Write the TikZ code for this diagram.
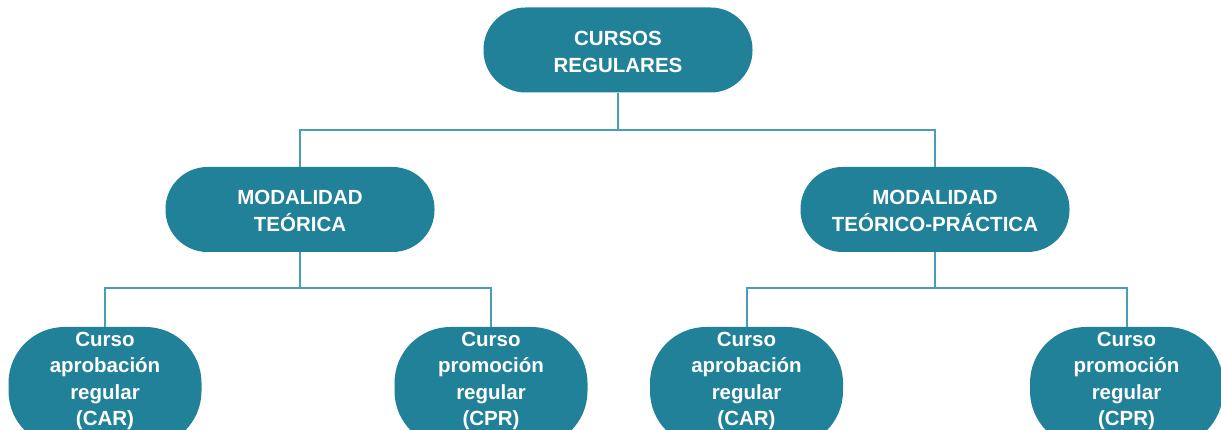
\documentclass[tikz,border=0pt]{standalone}
\usepackage{fontspec}
\setmainfont{Liberation Sans}
\definecolor{teal1}{RGB}{32,129,152}
\definecolor{line1}{RGB}{72,158,178}
\tikzset{
  box/.style={rectangle, fill=teal1, draw=none, rounded corners=42pt,
    minimum width=269pt, minimum height=85pt, inner sep=0pt},
  leaf/.style={rectangle, fill=teal1, draw=none, rounded corners=56pt,
    minimum width=193pt, minimum height=120pt, inner sep=0pt},
  txt/.style={text=white, align=center, inner sep=0pt,
    font=\fontsize{20.5pt}{26.5pt}\selectfont\bfseries},
  conn/.style={draw=line1, line width=2pt}
}
\begin{document}
\begin{tikzpicture}[x=1pt,y=-1pt]
\useasboundingbox (0,0) rectangle (1221,430);
% top
\node[box] (top) at (618,50) {};
\node[txt] (topt) at (618,52) {CURSOS\\REGULARES};
% middle
\node[box] (ml) at (300,209.5) {};
\node[txt] (mlt) at (300,211) {MODALIDAD\\TEÓRICA};
\node[box] (mr) at (935,209.5) {};
\node[txt] (mrt) at (935,211) {MODALIDAD\\TEÓRICO-PRÁCTICA};
% leaves
\node[leaf] (b1) at (105,387) {};
\node[leaf] (b2) at (491,387) {};
\node[leaf] (b3) at (746.5,387) {};
\node[leaf] (b4) at (1126.5,387) {};
\node[txt] (b1t) at (105,381) {Curso\\aprobación\\regular\\(CAR)};
\node[txt] (b2t) at (491,381) {Curso\\promoción\\regular\\(CPR)};
\node[txt] (b3t) at (746.5,381) {Curso\\aprobación\\regular\\(CAR)};
\node[txt] (b4t) at (1126.5,381) {Curso\\promoción\\regular\\(CPR)};
% connectors
\coordinate (j0) at (618,130);
\coordinate (j1) at (300,288);
\coordinate (j2) at (935,288);
\draw[conn] (top.south) -- (j0);
\draw[conn] (ml.north) |- (j0) -| (mr.north);
\draw[conn] (ml.south) -- (j1);
\draw[conn] (b1.north) |- (j1) -| (b2.north);
\draw[conn] (mr.south) -- (j2);
\draw[conn] (b3.north) |- (j2) -| (b4.north);
\end{tikzpicture}
\end{document}
